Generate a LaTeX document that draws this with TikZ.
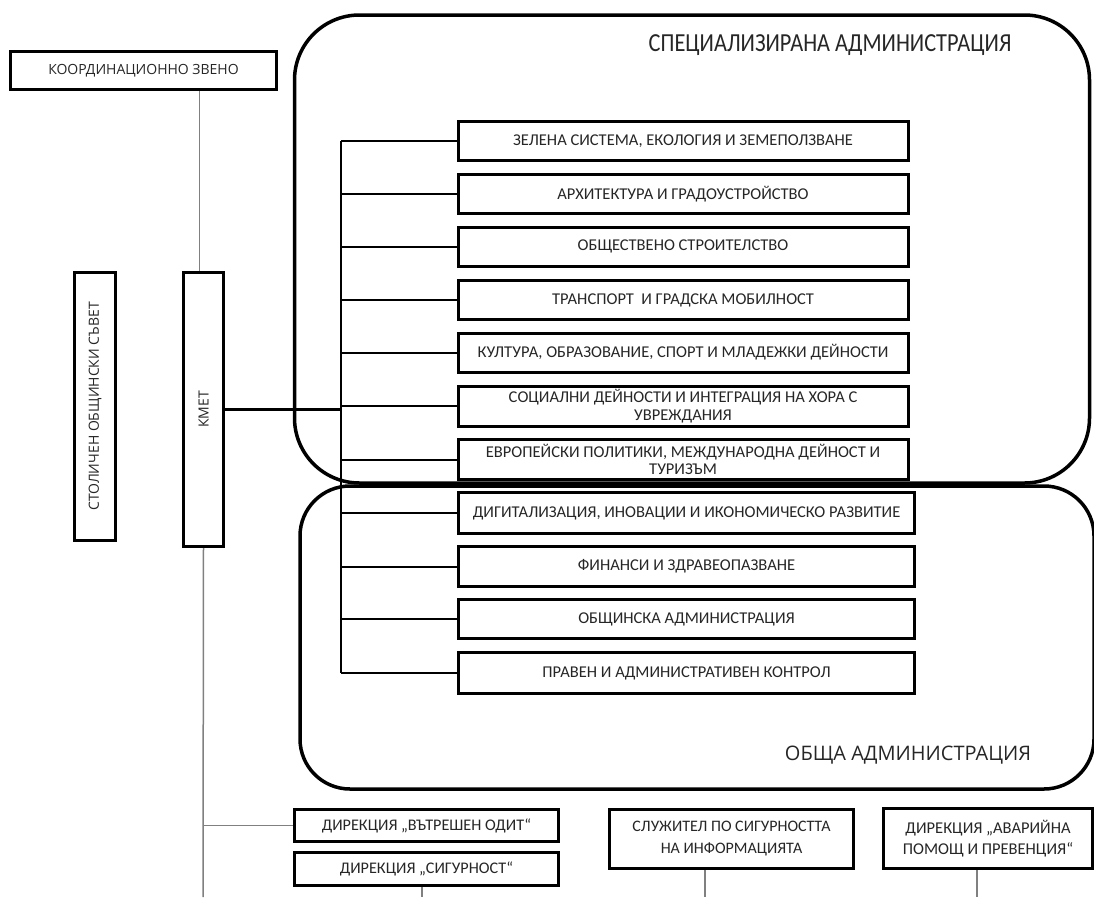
\documentclass[tikz,border=0pt]{standalone}
\usepackage{fontspec}
\setmainfont{Carlito}
\newfontfamily\osans{Open Sans}
\definecolor{txt}{RGB}{38,38,38}
\definecolor{lgrey}{RGB}{128,128,128}
\begin{document}
\begin{tikzpicture}[x=1pt,y=-1pt,
  box/.style={draw=black, line width=3pt, fill=white, inner sep=0pt, align=center, text=txt,
    font=\fontsize{16.5}{17}\selectfont},
  cont/.style={draw=black, line width=3.5pt, rounded corners=#1, inner sep=0pt},
  label/.style={text=txt, inner sep=0pt},
  bus/.style={draw=black, line width=2pt},
  grey/.style={draw=lgrey, line width=1.5pt}]
\useasboundingbox (0,0) rectangle (1094,897);

% containers
\node[cont=65pt, minimum width=795pt, minimum height=468pt] (spec) at (692,249) {};
\node[cont=50pt, minimum width=794pt, minimum height=303pt] (obsh) at (697,637.5) {};
\node[label, font=\fontsize{26}{28}\selectfont] (spectitle) at (830,45) {\scalebox{0.86}[1]{СПЕЦИАЛИЗИРАНА АДМИНИСТРАЦИЯ}};
\node[label, font=\osans\fontsize{20}{24}\selectfont] (obshtitle) at (908,755) {ОБЩА АДМИНИСТРАЦИЯ};

% left column
\node[box, minimum width=266pt, minimum height=38pt, font=\osans\fontsize{14}{16}\selectfont] (koord) at (143.5,70.5) {КООРДИНАЦИОННО ЗВЕНО};
\node[box, minimum width=41pt, minimum height=268pt] (stol) at (95,406.5) {};
\node[label, rotate=90, font=\osans\fontsize{14}{16}\selectfont] (stoltxt) at (stol.center) {СТОЛИЧЕН ОБЩИНСКИ СЪВЕТ};
\node[box, minimum width=40pt, minimum height=274pt] (kmet) at (203.5,409.5) {};
\node[label, rotate=90, font=\osans\fontsize{14}{16}\selectfont] (kmettxt) at (kmet.center) {КМЕТ};

% right column boxes
\node[box, minimum width=450pt, minimum height=39pt] (b1) at (683,141) {ЗЕЛЕНА СИСТЕМА, ЕКОЛОГИЯ И ЗЕМЕПОЛЗВАНЕ};
\node[box, minimum width=450pt, minimum height=39pt] (b2) at (683,194) {АРХИТЕКТУРА И ГРАДОУСТРОЙСТВО};
\node[box, minimum width=450pt, minimum height=39pt] (b3) at (683,246.5) {ОБЩЕСТВЕНО СТРОИТЕЛСТВО};
\node[box, minimum width=450pt, minimum height=39pt] (b4) at (683,300) {ТРАНСПОРТ\ \ И ГРАДСКА МОБИЛНОСТ};
\node[box, minimum width=450pt, minimum height=39pt] (b5) at (683,352.5) {КУЛТУРА, ОБРАЗОВАНИЕ, СПОРТ И МЛАДЕЖКИ ДЕЙНОСТИ};
\node[box, minimum width=450pt, minimum height=40pt, font=\fontsize{16.5}{17.5}\selectfont] (b6) at (683,406) {СОЦИАЛНИ ДЕЙНОСТИ И ИНТЕГРАЦИЯ НА ХОРА С\\УВРЕЖДАНИЯ};
\node[box, minimum width=450pt, minimum height=40pt, font=\fontsize{16.5}{17.5}\selectfont] (b7) at (683,459.5) {ЕВРОПЕЙСКИ ПОЛИТИКИ, МЕЖДУНАРОДНА ДЕЙНОСТ И\\ТУРИЗЪМ};
\node[box, minimum width=456pt, minimum height=41pt] (b8) at (686.5,513) {ДИГИТАЛИЗАЦИЯ, ИНОВАЦИИ И ИКОНОМИЧЕСКО РАЗВИТИЕ};
\node[box, minimum width=456pt, minimum height=40pt] (b9) at (686.5,566.5) {ФИНАНСИ И ЗДРАВЕОПАЗВАНЕ};
\node[box, minimum width=456pt, minimum height=39pt] (b10) at (686.5,619) {ОБЩИНСКА АДМИНИСТРАЦИЯ};
\node[box, minimum width=456pt, minimum height=41pt] (b11) at (686.5,673) {ПРАВЕН И АДМИНИСТРАТИВЕН КОНТРОЛ};

% bus
\coordinate (busx) at (341,0);
\draw[bus] (b1.west -| busx) -- (b11.west -| busx);
\foreach \b in {b1,b2,b3,b4,b5,b6,b7,b8,b9,b10,b11}
  \draw[bus] (\b.west) -- (\b.west -| busx);
\draw[line width=3pt] (kmet.east) -- (kmet.east -| busx);
\draw[grey] ([xshift=-4pt]kmet.north) -- ([xshift=-4pt]kmet.north |- koord.south);

% bottom boxes
\node[box, minimum width=264pt, minimum height=32pt, font=\fontsize{16.2}{17}\selectfont] (audit) at (426.5,825.5) {ДИРЕКЦИЯ „ВЪТРЕШЕН ОДИТ“};
\node[box, minimum width=264pt, minimum height=33pt, font=\fontsize{16.2}{17}\selectfont] (sigur) at (426.5,869) {ДИРЕКЦИЯ „СИГУРНОСТ“};
\node[box, minimum width=244pt, minimum height=59pt, font=\fontsize{16}{22}\selectfont] (sluzh) at (731.5,839) {СЛУЖИТЕЛ ПО СИГУРНОСТТА\\НА ИНФОРМАЦИЯТА};
\node[box, minimum width=209pt, minimum height=60pt, font=\fontsize{16.5}{21}\selectfont] (avar) at (988,838.5) {ДИРЕКЦИЯ „АВАРИЙНА\\ПОМОЩ И ПРЕВЕНЦИЯ“};

\coordinate (kend) at (203,897);
\coordinate (send) at (422,897);
\coordinate (slend) at (705,897);
\coordinate (aend) at (977,897);
\draw[grey] (kmet.south) -- (kend);
\draw[grey] (audit.west) -- (audit.west -| kend);
\draw[grey] (sigur.south -| send) -- (send);
\draw[grey] (sluzh.south -| slend) -- (slend);
\draw[grey] (avar.south -| aend) -- (aend);
\end{tikzpicture}
\end{document}
